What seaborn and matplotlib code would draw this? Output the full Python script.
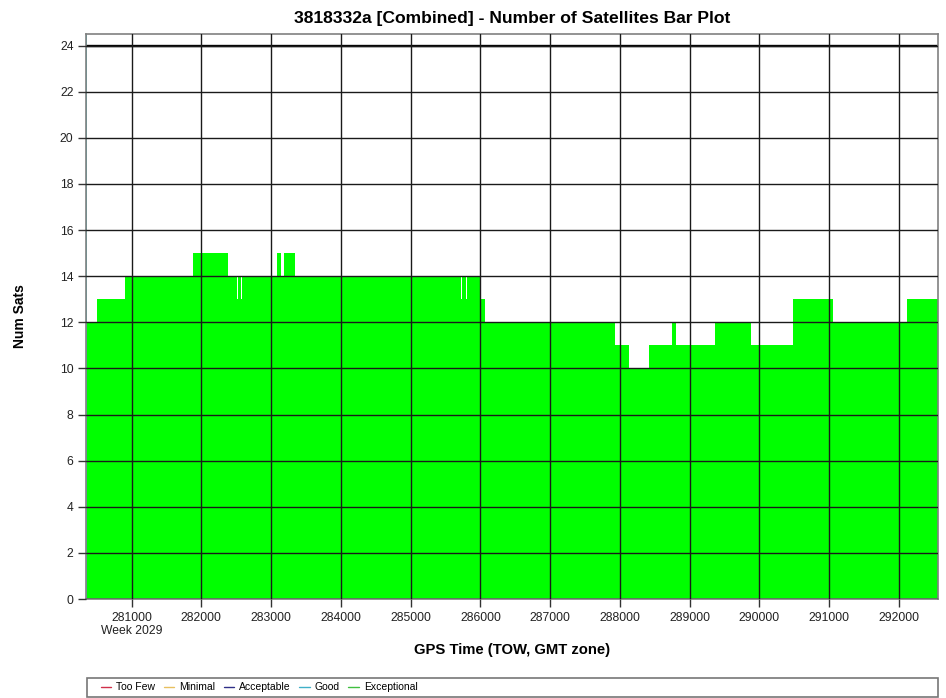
import numpy as np
import matplotlib
matplotlib.use('Agg')
import matplotlib.pyplot as plt
import seaborn as sns
from matplotlib.patches import Rectangle

# change points of the satellite count (GPS TOW seconds) and count in each span
tow_edges = [280346, 280498, 280904, 281883, 282376, 282505, 282519, 282567, 282581,
             283087, 283136, 283188, 283341, 285721, 285735, 285789, 285803, 285994,
             286066, 287930, 288134, 288421, 288742, 288804, 289363, 289875, 290477,
             291050, 292111, 292560]
num_sats = [12, 13, 14, 15, 14, 13, 14, 13, 14, 15, 14, 15, 14, 13, 14, 13, 14, 13,
            12, 11, 10, 11, 12, 11, 12, 11, 13, 12, 13]

# a single "Good" epoch at the very start
good_tow = [280350]
good_sats = [25]

x_ticks = [281000, 282000, 283000, 284000, 285000, 286000, 287000, 288000,
           289000, 290000, 291000, 292000]
x_labels = ['281000\nWeek 2029', '282000', '283000', '284000', '285000', '286000',
            '287000', '288000', '289000', '290000', '291000', '292000']
y_ticks = list(range(0, 25, 2))

legend_names = ['Too Few', 'Minimal', 'Acceptable', 'Good', 'Exceptional']
legend_colors = ['#d0304a', '#e8c060', '#303088', '#40b0c8', '#40c040']

sns.set_style('white')
plt.rcParams['font.family'] = ['Liberation Sans', 'DejaVu Sans']
plt.rcParams['text.color'] = 'black'
plt.rcParams['axes.labelcolor'] = 'black'

fig = plt.figure(figsize=(9.46, 6.98), dpi=100)
ax = fig.add_axes([0.0909, 0.1418, 0.9006, 0.8095])

sns.histplot(x=tow_edges[:-1], weights=num_sats, bins=tow_edges, element='step',
             fill=True, color='#00ff00', alpha=1, linewidth=0, ax=ax)
ax.bar(good_tow, good_sats, width=12, color='#40d0d0', linewidth=0, align='edge')

ax.set_xlim(tow_edges[0], tow_edges[-1])
ax.set_ylim(0, 24.5)
ax.set_xticks(x_ticks)
ax.set_xticklabels(x_labels, fontsize=8.7, color='#222222')
ax.set_yticks(y_ticks)
ax.set_yticklabels([str(v) for v in y_ticks], fontsize=8.7, color='#222222')
ax.tick_params(axis='both', direction='out', length=6, width=1, color='#333333',
               bottom=True, left=True, pad=3)

ax.set_axisbelow(False)
ax.grid(True, color='#1a1a1a', linewidth=1.0)
ax.axhline(24, color='black', linewidth=1.7)
for s in ax.spines.values():
    s.set_color('#808080')
    s.set_linewidth(1.2)

ax.set_title('3818332a [Combined] - Number of Satellites Bar Plot',
             fontsize=12.6, fontweight='bold', pad=8)
ax.set_xlabel('GPS Time (TOW, GMT zone)', fontsize=10.7, fontweight='bold', labelpad=4)
ax.set_ylabel('Num Sats', fontsize=10, fontweight='bold', labelpad=24)

# legend strip under the plot
fig.patches.append(Rectangle((0.0920, 0.0015), 0.8995, 0.0275, transform=fig.transFigure,
                             fill=False, edgecolor='#777777', linewidth=1.2))
handles = [plt.Line2D([], [], color=c, linewidth=1) for c in legend_colors]
fig.legend(handles, legend_names, loc='center left', bbox_to_anchor=(0.101, 0.0155),
           ncol=5, frameon=False, fontsize=7.5, handlelength=1.0, handletextpad=0.5,
           columnspacing=0.8, borderpad=0)

fig.savefig('out.png', dpi=100)
